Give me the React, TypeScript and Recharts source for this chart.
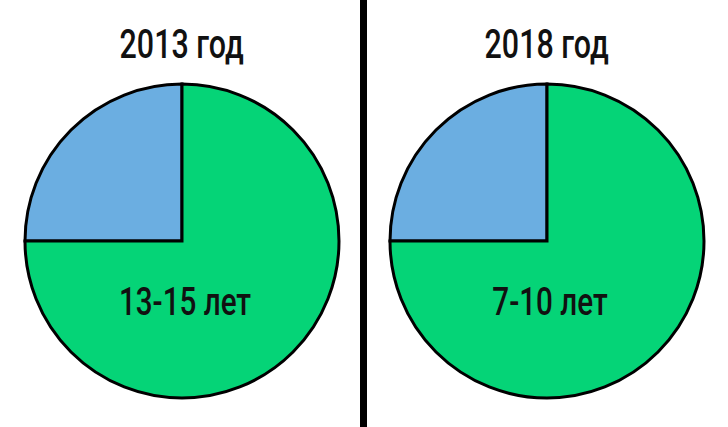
import React from "react";
import { PieChart, Pie, Cell } from "recharts";

const years = ["2013 год", "2018 год"];
const ageLabels = ["13-15 лет", "7-10 лет"];
const shares2013 = [25, 75];
const shares2018 = [25, 75];
const colors = ["#6BAEE1", "#05D477"];

const FONT = "Roboto, 'DejaVu Sans', sans-serif";
const SQUEEZE = 0.76;

const makeData = (vals: number[], label: string) =>
  vals.map((v, i) => ({ name: i === 1 ? label : "other", value: v }));

const makeLabel = (text: string) => (props: any) => {
  if (props.index !== 1) return null;
  return (
    <text
      x={0}
      y={0}
      transform={`translate(${props.cx + 3},${props.cy + 60}) scale(${SQUEEZE},1)`}
      textAnchor="middle"
      dominantBaseline="central"
      fill="#111"
      fontSize={39}
      fontFamily={FONT}
      fontWeight={500}
    >
      {text}
    </text>
  );
};

export default function App() {
  const datasets = [makeData(shares2013, ageLabels[0]), makeData(shares2018, ageLabels[1])];
  const centersX = [182, 547];
  return (
    <div style={{ position: "absolute", left: 0, top: 0, width: 728, height: 427, background: "#fff" }}>
      <PieChart width={728} height={427} margin={{ top: 0, right: 0, bottom: 0, left: 0 }}>
        {datasets.map((d, k) => (
          <Pie
            key={k}
            data={d}
            dataKey="value"
            cx={centersX[k]}
            cy={241}
            outerRadius={157}
            startAngle={90}
            endAngle={450}
            stroke="#000"
            strokeWidth={3}
            isAnimationActive={false}
            labelLine={false}
            label={makeLabel(ageLabels[k])}
          >
            {d.map((_, i) => (
              <Cell key={i} fill={colors[i]} />
            ))}
          </Pie>
        ))}
      </PieChart>
      {years.map((y, k) => (
        <div
          key={y}
          style={{
            position: "absolute",
            left: centersX[k] - 150,
            width: 300,
            top: 20,
            textAlign: "center",
            fontFamily: FONT,
            fontWeight: 500,
            fontSize: 40,
            lineHeight: "50px",
            color: "#111",
          }}
        >
          <span style={{ display: "inline-block", transform: `scaleX(${SQUEEZE})` }}>{y}</span>
        </div>
      ))}
      <div style={{ position: "absolute", left: 360, top: 0, width: 7, height: 427, background: "#000" }} />
    </div>
  );
}
